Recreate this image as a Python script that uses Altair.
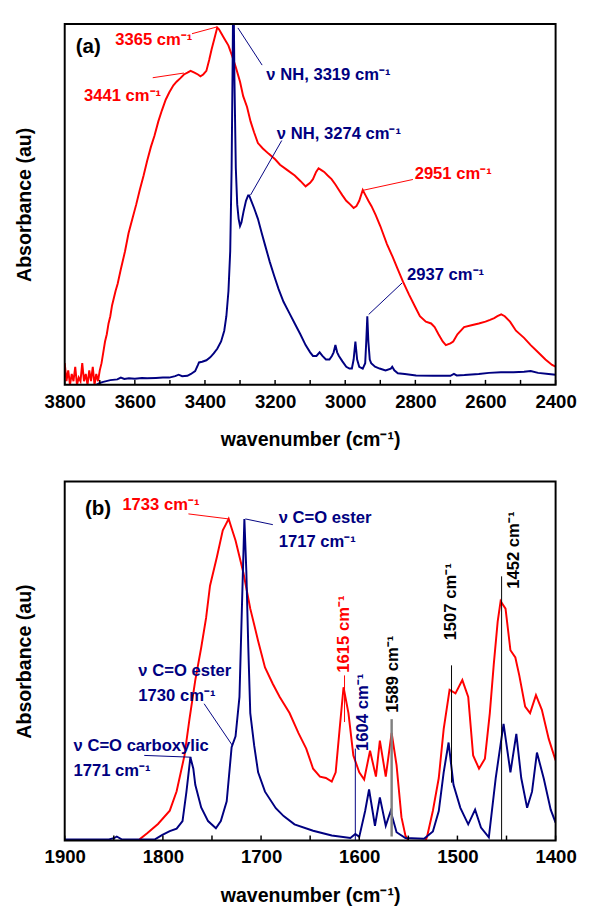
import altair as alt
import pandas as pd

FONT = "Liberation Sans"
RED = "#ff0000"
NAVY = "#000080"

# ---------------- Panel (a) data ----------------
a_red_wn = [3800, 3795, 3790, 3785, 3780, 3775, 3770, 3765, 3760, 3755, 3750, 3745, 3740, 3735, 3730,
            3725, 3720, 3715, 3710, 3705, 3700, 3695, 3690, 3685, 3680, 3675, 3670, 3665, 3660, 3655,
            3649, 3640, 3628, 3618, 3607, 3596, 3586, 3575, 3565, 3554, 3544, 3533, 3523, 3512, 3502,
            3490, 3481, 3470, 3460, 3450, 3441, 3430, 3420, 3413, 3405, 3396, 3388, 3381, 3373, 3365,
            3360, 3354, 3345, 3333, 3322, 3312, 3300, 3291, 3280, 3270, 3260, 3249, 3235, 3218, 3200,
            3186, 3165, 3144, 3128, 3113, 3100, 3092, 3083, 3076, 3068, 3060, 3050, 3039, 3028, 3018,
            3008, 2997, 2986, 2976, 2968, 2960, 2950, 2942, 2934, 2925, 2913, 2900, 2881, 2865, 2850,
            2835, 2818, 2800, 2787, 2770, 2755, 2745, 2734, 2722, 2713, 2700, 2692, 2680, 2661, 2640,
            2619, 2600, 2587, 2575, 2566, 2555, 2545, 2530, 2513, 2490, 2471, 2450, 2429, 2410, 2400]
a_red_abs = [0.06, 0.01, 0.04, 0.0, 0.03, 0.01, 0.05, 0.0, 0.02, 0.01, 0.06, 0.01, 0.03, 0.0, 0.04,
             0.01, 0.05, 0.0, 0.03, 0.01, 0.04, 0.06, 0.09, 0.12, 0.14, 0.17, 0.19, 0.22, 0.24, 0.26,
             0.28, 0.32, 0.37, 0.42, 0.46, 0.50, 0.54, 0.58, 0.62, 0.66, 0.69, 0.73, 0.76, 0.79, 0.81,
             0.83, 0.84, 0.85, 0.86, 0.865, 0.87, 0.865, 0.86, 0.855, 0.86, 0.87, 0.90, 0.93, 0.96, 0.99,
             0.985, 0.975, 0.96, 0.94, 0.91, 0.88, 0.84, 0.80, 0.77, 0.73, 0.70, 0.67, 0.655, 0.64, 0.625,
             0.61, 0.595, 0.58, 0.565, 0.55, 0.56, 0.57, 0.59, 0.60, 0.595, 0.59, 0.58, 0.57, 0.555, 0.54,
             0.525, 0.51, 0.50, 0.49, 0.495, 0.51, 0.54, 0.525, 0.51, 0.495, 0.47, 0.44, 0.39, 0.355, 0.32,
             0.285, 0.25, 0.215, 0.19, 0.175, 0.17, 0.16, 0.14, 0.12, 0.11, 0.115, 0.12, 0.14, 0.16, 0.165,
             0.17, 0.175, 0.18, 0.185, 0.19, 0.195, 0.19, 0.175, 0.15, 0.13, 0.11, 0.09, 0.07, 0.055, 0.05]

a_blue_wn = [3710, 3700, 3690, 3670, 3650, 3640, 3630, 3617, 3600, 3580, 3565, 3540, 3520, 3502, 3485,
             3475, 3465, 3450, 3440, 3428, 3420, 3417, 3408, 3396, 3385, 3375, 3365, 3354, 3345, 3339,
             3333, 3328, 3324, 3321, 3319, 3316, 3312, 3308, 3304, 3300, 3296, 3290, 3283, 3277, 3274,
             3268, 3260, 3249, 3238, 3228, 3215, 3202, 3190, 3176, 3160, 3144, 3128, 3113, 3100, 3092,
             3082, 3073, 3065, 3055, 3045, 3038, 3033, 3028, 3023, 3018, 3008, 2997, 2988, 2981, 2976,
             2971, 2966, 2960, 2950, 2943, 2940, 2937, 2934, 2930, 2926, 2915, 2902, 2885, 2870, 2866,
             2860, 2850, 2830, 2798, 2750, 2700, 2690, 2682, 2660, 2619, 2590, 2556, 2520, 2490, 2471,
             2450, 2420, 2400]
a_blue_abs = [0.0, 0.005, 0.008, 0.013, 0.015, 0.02, 0.016, 0.018, 0.017, 0.019, 0.018, 0.019, 0.02, 0.02, 0.024,
              0.028, 0.024, 0.025, 0.03, 0.038, 0.055, 0.062, 0.064, 0.068, 0.076, 0.087, 0.10, 0.12, 0.15, 0.19,
              0.26, 0.37, 0.60, 0.90, 1.15, 0.85, 0.60, 0.50, 0.46, 0.44, 0.45, 0.48, 0.51, 0.525, 0.525,
              0.51, 0.49, 0.46, 0.42, 0.385, 0.34, 0.30, 0.265, 0.23, 0.20, 0.17, 0.14, 0.11, 0.09, 0.08,
              0.08, 0.09, 0.08, 0.07, 0.07, 0.08, 0.09, 0.11, 0.09, 0.08, 0.065, 0.05, 0.045, 0.045, 0.07,
              0.12, 0.07, 0.05, 0.045, 0.06, 0.12, 0.19, 0.12, 0.07, 0.06, 0.05, 0.045, 0.04, 0.045, 0.05,
              0.04, 0.032, 0.03, 0.026, 0.025, 0.025, 0.03, 0.026, 0.027, 0.03, 0.033, 0.035, 0.035, 0.036, 0.038,
              0.033, 0.03, 0.028]

a_ticks = [3800, 3700, 3600, 3500, 3400, 3300, 3200, 3100, 3000, 2900, 2800, 2700, 2600, 2500, 2400]
a_labels = [3800, 3600, 3400, 3200, 3000, 2800, 2600, 2400]

a_text_label = ["(a)", "3365 cm⁻¹", "3441 cm⁻¹", "ν NH, 3319 cm⁻¹", "ν NH, 3274 cm⁻¹", "2951 cm⁻¹", "2937 cm⁻¹"]
a_text_wn = [3733, 3546, 3635, 3225, 3195, 2802, 2824]
a_text_abs = [0.935, 0.954, 0.80, 0.859, 0.696, 0.585, 0.304]
a_text_color = ["black", RED, RED, NAVY, NAVY, RED, NAVY]
a_text_align = ["center", "center", "center", "left", "left", "left", "left"]
a_text_size = [21, 17, 17, 17, 17, 17, 17]

a_lead_wn = [3437, 3549, 3306, 3181, 2807, 2838]
a_lead_abs = [0.973, 0.851, 0.989, 0.677, 0.569, 0.282]
a_lead_wn2 = [3365, 3460, 3237, 3270, 2949, 2933]
a_lead_abs2 = [0.992, 0.864, 0.886, 0.526, 0.539, 0.195]
a_lead_color = [RED, RED, NAVY, NAVY, RED, NAVY]
a_lead_width = [1, 1, 1, 1, 1, 1]

# ---------------- Panel (b) data ----------------
b_red_wn = [1900, 1830, 1823, 1816, 1805, 1793, 1786, 1778, 1773, 1767, 1761, 1756, 1752, 1745, 1739,
            1736, 1733, 1730, 1726, 1718, 1711, 1703, 1696, 1688, 1681, 1671, 1662, 1654, 1647, 1640,
            1634, 1628, 1624, 1620, 1616, 1611, 1606, 1600, 1595, 1589, 1583, 1579, 1573, 1567, 1562,
            1557, 1553, 1548, 1534, 1531, 1525, 1519, 1514, 1508, 1502, 1495, 1489, 1484, 1478, 1472,
            1467, 1463, 1459, 1456, 1451, 1446, 1441, 1437, 1431, 1426, 1420, 1414, 1407, 1400]
b_red_abs = [-0.02, -0.02, 0.005, 0.02, 0.046, 0.083, 0.137, 0.237, 0.337, 0.447, 0.537, 0.62, 0.71, 0.79, 0.864,
             0.88, 0.896, 0.87, 0.836, 0.746, 0.646, 0.556, 0.482, 0.436, 0.40, 0.355, 0.30, 0.256, 0.20, 0.178,
             0.174, 0.164, 0.19, 0.31, 0.427, 0.355, 0.237, 0.19, 0.17, 0.25, 0.178, 0.278, 0.178, 0.30, 0.21,
             0.065, 0.014, -0.01, -0.01, 0.01, 0.083, 0.174, 0.31, 0.42, 0.41, 0.447, 0.40, 0.237, 0.20, 0.228,
             0.355, 0.49, 0.61, 0.667, 0.646, 0.53, 0.51, 0.46, 0.373, 0.355, 0.405, 0.364, 0.283, 0.223]

b_blue_wn = [1900, 1855, 1850, 1847, 1842, 1808, 1801, 1793, 1786, 1780, 1776, 1772, 1769, 1767, 1761,
             1754, 1746, 1741, 1735, 1730, 1726, 1722, 1719, 1717, 1715, 1713, 1711, 1707, 1703, 1696,
             1685, 1677, 1666, 1647, 1628, 1609, 1604, 1600, 1594, 1590, 1584, 1579, 1573, 1568, 1562,
             1553, 1534, 1525, 1519, 1514, 1509, 1504, 1497, 1489, 1482, 1476, 1468, 1461, 1453, 1446,
             1440, 1435, 1429, 1424, 1419, 1412, 1405, 1400]
b_blue_abs = [0.003, 0.003, 0.006, 0.011, 0.003, 0.003, 0.015, 0.026, 0.033, 0.054, 0.136, 0.232, 0.20, 0.155, 0.092,
              0.054, 0.034, 0.054, 0.109, 0.26, 0.29, 0.40, 0.70, 0.896, 0.75, 0.537, 0.355, 0.264, 0.19, 0.136,
              0.09, 0.068, 0.045, 0.027, 0.014, 0.007, 0.018, 0.01, 0.082, 0.142, 0.041, 0.12, 0.041, 0.082, 0.023,
              0.007, 0.005, 0.025, 0.082, 0.19, 0.273, 0.155, 0.091, 0.045, 0.086, 0.036, 0.009, 0.174, 0.325, 0.19,
              0.297, 0.174, 0.091, 0.136, 0.245, 0.172, 0.086, 0.05]

b_ticks = [1900, 1850, 1800, 1750, 1700, 1650, 1600, 1550, 1500, 1450, 1400]
b_labels = [1900, 1800, 1700, 1600, 1500, 1400]

b_text_label = ["(b)", "1733 cm⁻¹", "ν C=O ester", "1717 cm⁻¹", "ν C=O ester", "1730 cm⁻¹",
                "ν C=O carboxylic", "1771 cm⁻¹"]
b_text_wn = [1866, 1802, 1682, 1682, 1825, 1825, 1891, 1891]
b_text_abs = [0.924, 0.935, 0.899, 0.831, 0.471, 0.403, 0.264, 0.193]
b_text_color = ["black", RED, NAVY, NAVY, NAVY, NAVY, NAVY, NAVY]
b_text_align = ["center", "center", "left", "left", "left", "left", "left", "left"]
b_text_size = [21, 17, 17, 17, 17, 17, 17, 17]

b_rot_label = ["1615 cm⁻¹", "1604 cm⁻¹", "1589 cm⁻¹", "1507 cm⁻¹", "1452 cm⁻¹"]
b_rot_wn = [1615, 1596, 1566, 1506, 1442]
b_rot_abs = [0.575, 0.357, 0.463, 0.665, 0.809]
b_rot_color = [RED, NAVY, "black", "black", "black"]

b_lead_wn = [1774, 1716, 1615, 1604, 1567, 1506, 1455, 1758, 1819]
b_lead_abs = [0.910, 0.896, 0.33, 0.256, 0.338, 0.488, 0.736, 0.381, 0.237]
b_lead_wn2 = [1733, 1688, 1615, 1604, 1567, 1506, 1455, 1729, 1771]
b_lead_abs2 = [0.896, 0.880, 0.46, 0.0, 0.011, 0.161, 0.0, 0.264, 0.232]
b_lead_color = [RED, NAVY, RED, NAVY, "#808080", "black", "black", NAVY, NAVY]
b_lead_width = [1, 1, 1, 1, 2.5, 1, 1, 1, 1]

W = 502


def panel(red_wn, red_abs, blue_wn, blue_abs, ticks, labels, domain, height,
          t_label, t_wn, t_abs, t_color, t_align, t_size,
          l_wn, l_abs, l_wn2, l_abs2, l_color, l_width,
          r_label=None, r_wn=None, r_abs=None, r_color=None):
    xs = alt.Scale(domain=domain, nice=False, zero=False)
    ys = alt.Scale(domain=[0, 1], nice=False, zero=False)
    ax = alt.Axis(values=labels, format="d", ticks=False, domain=False, grid=False,
                  labelFont=FONT, labelFontSize=19, labelFontWeight="bold", labelColor="black",
                  labelPadding=8, labelFlush=False,
                  title="wavenumber (cm⁻¹)", titleFont=FONT, titleFontSize=20,
                  titleFontWeight="bold", titleColor="black", titlePadding=19)
    ay = alt.Axis(labels=False, ticks=False, domain=False, grid=False,
                  title="Absorbance (au)", titleFont=FONT, titleFontSize=20,
                  titleFontWeight="bold", titleColor="black", titlePadding=31)

    def X(f):
        return alt.X(f, type="quantitative", scale=xs, axis=ax)

    def Y(f):
        return alt.Y(f, type="quantitative", scale=ys, axis=ay)

    red = alt.Chart(pd.DataFrame({"wn": red_wn, "abs": red_abs, "idx": list(range(len(red_wn)))})).mark_line(
        color=RED, strokeWidth=2, clip=True).encode(x=X("wn"), y=Y("abs"), order=alt.Order("idx:Q"))
    blue = alt.Chart(pd.DataFrame({"wn": blue_wn, "abs": blue_abs, "idx": list(range(len(blue_wn)))})).mark_line(
        color=NAVY, strokeWidth=2, clip=True).encode(x=X("wn"), y=Y("abs"), order=alt.Order("idx:Q"))

    tk = alt.Chart(pd.DataFrame({"wn": ticks})).mark_rule(color="black", strokeWidth=1.5).encode(
        x=X("wn"), y=alt.value(height), y2=alt.value(height - 5))

    frame = alt.Chart(pd.DataFrame({"wn": [domain[0]], "wn2": [domain[1]]})).mark_rect(
        fillOpacity=0, stroke="black", strokeWidth=2).encode(
        x=X("wn"), x2="wn2", y=alt.value(0), y2=alt.value(height))

    leads = alt.Chart(pd.DataFrame({"wn": l_wn, "abs": l_abs, "wn2": l_wn2, "abs2": l_abs2,
                                    "c": l_color, "w": l_width})).mark_rule().encode(
        x=X("wn"), y=Y("abs"), x2="wn2", y2="abs2",
        color=alt.Color("c:N", scale=None), strokeWidth=alt.StrokeWidth("w:Q", scale=None))

    tdf = pd.DataFrame({"wn": t_wn, "abs": t_abs, "label": t_label, "c": t_color,
                        "al": t_align, "s": t_size})
    txt_c = alt.Chart(tdf[tdf["al"] == "center"]).mark_text(
        font=FONT, fontWeight="bold", align="center", baseline="middle").encode(
        x=X("wn"), y=Y("abs"), text="label:N", color=alt.Color("c:N", scale=None),
        size=alt.Size("s:Q", scale=None))
    txt_l = alt.Chart(tdf[tdf["al"] == "left"]).mark_text(
        font=FONT, fontWeight="bold", align="left", baseline="middle").encode(
        x=X("wn"), y=Y("abs"), text="label:N", color=alt.Color("c:N", scale=None),
        size=alt.Size("s:Q", scale=None))
    layers = [red, blue, tk, leads, txt_c, txt_l]
    if r_label:
        rot = alt.Chart(pd.DataFrame({"wn": r_wn, "abs": r_abs, "label": r_label, "c": r_color})).mark_text(
            font=FONT, fontWeight="bold", fontSize=17, align="center", baseline="middle", angle=270).encode(
            x=X("wn"), y=Y("abs"), text="label:N", color=alt.Color("c:N", scale=None))
        layers.append(rot)
    layers.append(frame)
    return alt.layer(*layers).properties(width=W, height=height)


pa = panel(a_red_wn, a_red_abs, a_blue_wn, a_blue_abs, a_ticks, a_labels, [3800, 2400], 369,
           a_text_label, a_text_wn, a_text_abs, a_text_color, a_text_align, a_text_size,
           a_lead_wn, a_lead_abs, a_lead_wn2, a_lead_abs2, a_lead_color, a_lead_width)
pb = panel(b_red_wn, b_red_abs, b_blue_wn, b_blue_abs, b_ticks, b_labels, [1900, 1400], 367,
           b_text_label, b_text_wn, b_text_abs, b_text_color, b_text_align, b_text_size,
           b_lead_wn, b_lead_abs, b_lead_wn2, b_lead_abs2, b_lead_color, b_lead_width,
           b_rot_label, b_rot_wn, b_rot_abs, b_rot_color)

chart = alt.vconcat(pa, pb, spacing=32).properties(
    padding={"left": 7, "top": 5, "right": 5, "bottom": 5},
    background="white",
).configure(font=FONT).configure_view(stroke=None)

chart.save("out.html", embed_options={"renderer": "svg", "actions": False})
